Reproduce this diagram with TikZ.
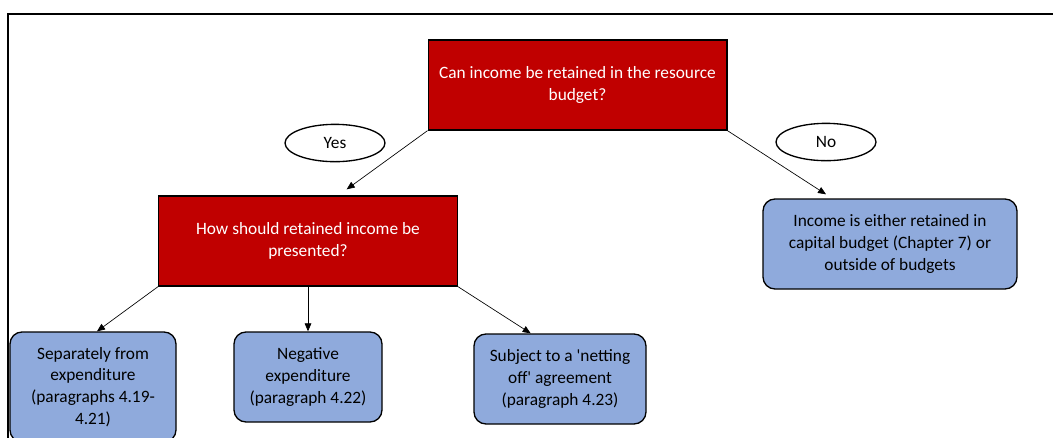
\documentclass[tikz,border=0pt]{standalone}
\usepackage{fontspec}
\setmainfont{Carlito}
\usetikzlibrary{shapes.geometric,arrows.meta}

\begin{document}
\begin{tikzpicture}[x=0.75pt,y=-0.75pt]
    % --- COLOURS ---
    \definecolor{boxRed}{RGB}{192,0,0}
    \definecolor{boxBlue}{RGB}{143,170,220}

    % --- STYLES ---
    \tikzset{
        questionNode/.style={rectangle, draw=black, fill=boxRed, line width=1pt, minimum width=224pt, minimum height=67.5pt, align=center, text=white, font=\fontsize{13}{16.4}\selectfont},
        answerNode/.style={rectangle, rounded corners=9pt, draw=black, fill=boxBlue, line width=1pt, minimum height=67.5pt, align=center, font=\fontsize{13}{16.4}\selectfont},
        labelNode/.style={ellipse, draw=black, line width=1pt, minimum width=75pt, minimum height=28pt, inner sep=0pt, font=\fontsize{13}{15}\selectfont},
        arrowLine/.style={-{Triangle[length=6pt,width=5pt]}, draw=black, line width=0.5pt}
    }

    % --- PAGE AND FRAME ---
    \useasboundingbox (0,0) rectangle (1053,437);
    \clip (0,0) rectangle (1053,437);
    \draw[line width=1.5pt] (1060,14) -- (8,14) -- (8,445);

    % --- NODES ---

    % Questions
    \node[questionNode] (q1) at (577.5,85) {Can income be retained in the resource\\budget?};
    \node[questionNode] (q2) at (308,241) {How should retained income be\\presented?};

    % Yes / No labels
    \node[labelNode] (yes) at (335,143) {Yes};
    \node[labelNode] (no) at (826,142) {No};

    % Answers
    \node[answerNode, minimum width=190.5pt] (a0) at (890,244) {Income is either retained in\\capital budget (Chapter 7) or\\outside of budgets};
    \node[answerNode, minimum width=124.5pt, minimum height=82.5pt] (a1) at (93,387) {Separately from\\expenditure\\(paragraphs 4.19-\\4.21)};
    \node[answerNode, minimum width=111pt] (a2) at (308,377) {Negative\\expenditure\\(paragraph 4.22)};
    \node[answerNode, minimum width=129pt] (a3) at (560,379) {Subject to a \textquotesingle netting\\off\textquotesingle\ agreement\\(paragraph 4.23)};

    % Arrow ends
    \coordinate (yesTip) at ([xshift=29pt,yshift=4.5pt]q2.north);
    \coordinate (noTip) at ([xshift=-48pt,yshift=3pt]a0.north);
    \coordinate (a3Tip) at ([xshift=-22pt]a3.north);

    % --- ARROWS ---
    \draw[arrowLine] (q1.south west) -- (yesTip);
    \draw[arrowLine] (q1.south east) -- (noTip);
    \draw[arrowLine] (q2.south west) -- ([xshift=3pt]a1.north);
    \draw[arrowLine] (q2.south) -- (a2.north);
    \draw[arrowLine] (q2.south east) -- (a3Tip);

\end{tikzpicture}
\end{document}
